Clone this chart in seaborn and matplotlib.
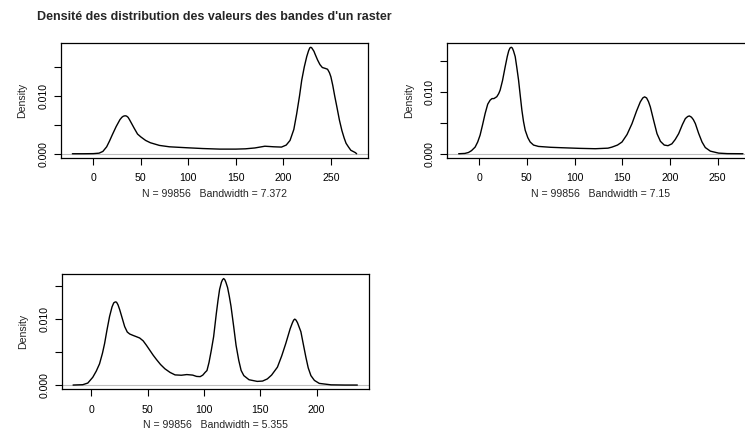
import numpy as np
import seaborn as sns
import matplotlib
matplotlib.use("Agg")
import matplotlib.pyplot as plt

# density curves (x = pixel value, y = density)
band1_x = [-22.1, -10, 0, 6, 10, 14, 17, 20, 24, 28, 30, 31.5, 33, 34, 35, 36.5, 38, 40, 43, 46.5,
           50, 55, 60, 69.5, 80, 97.7, 115, 133, 150, 160, 170, 180.5, 190, 198, 203, 207, 211,
           214, 217, 219.3, 222, 224.6, 226.5, 227.8, 228.8, 229.8, 231, 232.2, 233.4, 236, 238.5,
           241, 244, 246.5, 248.5, 250, 252, 254, 256.3, 259, 261.6, 264, 266, 268.6, 271, 275.7,
           277.1]
band1_y = [0, 0, 0.00002, 0.0001, 0.0004, 0.0012, 0.0022, 0.0033, 0.0047, 0.0059, 0.0063, 0.00648,
           0.00655, 0.00655, 0.0065, 0.0063, 0.0059, 0.0053, 0.0044, 0.0034, 0.0029, 0.0023, 0.0019,
           0.00144, 0.0012, 0.00104, 0.0009, 0.0008, 0.0008, 0.00085, 0.0010, 0.0013, 0.0012,
           0.00115, 0.0015, 0.0023, 0.0042, 0.0069, 0.0100, 0.0127, 0.0150, 0.0168, 0.0178, 0.0183,
           0.0184, 0.0183, 0.0180, 0.0177, 0.0172, 0.0162, 0.0154, 0.0149, 0.01475, 0.0146, 0.0140,
           0.0133, 0.0118, 0.0100, 0.0081, 0.0058, 0.0040, 0.0027, 0.0018, 0.00115, 0.0006,
           0.0002, 0]

band2_x = [-21.45, -15, -11.2, -8, -4.2, -1.5, 1, 3.5, 6.3, 9, 11.5, 13.5, 15.5, 18.5, 20.5, 22,
           24.5, 27.3, 29.5, 31, 32.3, 33.6, 34.8, 36, 37.8, 39.5, 41.3, 43, 44.8, 46.5, 48.3, 51,
           53.5, 57, 62.2, 75, 86.7, 105, 121.7, 135, 139.2, 145, 149.7, 155, 160.2, 165, 168.9,
           171.5, 173.4, 175.5, 177.5, 179.4, 183, 186.4, 190, 194, 197.9, 202, 205.5, 209.1, 213,
           216.1, 218.5, 220.3, 222.5, 224.5, 226.6, 230, 233.6, 237, 242.3, 251, 260, 276.45]
band2_y = [0, 0.00005, 0.0002, 0.0005, 0.00107, 0.0019, 0.0030, 0.0046, 0.0065, 0.0080, 0.00864,
           0.0089, 0.0089, 0.0092, 0.0097, 0.01026, 0.0118, 0.01404, 0.0157, 0.0166, 0.01705,
           0.01718, 0.01705, 0.0166, 0.01567, 0.0139, 0.01189, 0.0095, 0.00702, 0.0052, 0.00378,
           0.0026, 0.00189, 0.0014, 0.00118, 0.00104, 0.00097, 0.00087, 0.00081, 0.0009, 0.00107,
           0.0014, 0.00189, 0.0031, 0.00486, 0.0069, 0.00837, 0.0090, 0.00918, 0.0090, 0.0084,
           0.00756, 0.0053, 0.00324, 0.0020, 0.0014, 0.0013, 0.0016, 0.0023, 0.00324, 0.0047,
           0.00567, 0.0060, 0.0061, 0.0059, 0.0055, 0.00486, 0.0033, 0.00189, 0.0010, 0.00042,
           0.0001, 0.00002, 0]

band3_x = [-16.07, -7.5, -3, 1.4, 4.5, 7.4, 10, 11.9, 14, 16.3, 18.5, 20, 21.4, 22.5, 23.8, 25.3,
           27.5, 29.7, 32, 34.2, 37, 40.2, 43, 46.1, 49, 52, 55, 58, 61.5, 65.4, 70, 74.4, 80, 84.8,
           90, 93.5, 96.7, 99, 101, 102.7, 104.5, 106.5, 108.6, 111, 112.5, 113.9, 115.5, 116.5,
           117.5, 118.5, 119.5, 121, 122.5, 124, 126.4, 128.5, 130.9, 133, 135.4, 140, 147.3, 152,
           156.2, 160, 165.2, 169, 172.6, 176.5, 178.5, 179.6, 180.6, 181.7, 183, 186, 188, 190.4,
           192.5, 194.9, 198, 202.3, 212.8, 225, 236.07]
band3_y = [0, 0.00005, 0.0003, 0.00117, 0.0021, 0.0032, 0.0048, 0.00627, 0.0083, 0.01035, 0.0118,
           0.0124, 0.01255, 0.0125, 0.0121, 0.01137, 0.0101, 0.00882, 0.0080, 0.0077, 0.0075,
           0.00729, 0.0071, 0.00667, 0.0060, 0.00525, 0.0045, 0.00383, 0.0031, 0.00245, 0.0019,
           0.00153, 0.00148, 0.00158, 0.0015, 0.0013, 0.00127, 0.0015, 0.0019, 0.00219, 0.0034,
           0.0052, 0.00729, 0.0108, 0.0128, 0.01443, 0.0155, 0.0159, 0.01607, 0.0159, 0.0155,
           0.0147, 0.0134, 0.0119, 0.00882, 0.0060, 0.00372, 0.0022, 0.00142, 0.0008, 0.00055,
           0.0006, 0.00092, 0.0015, 0.0027, 0.0044, 0.00627, 0.0085, 0.0094, 0.0098, 0.00995,
           0.0098, 0.0094, 0.00805, 0.0063, 0.00423, 0.0026, 0.00142, 0.0007, 0.00025, 0.00003,
           0, 0]

n_obs = [99856, 99856, 99856]
bandwidths = ["7.372", "7.15", "5.355"]
xticks = [[0, 50, 100, 150, 200, 250], [0, 50, 100, 150, 200, 250], [0, 50, 100, 150, 200]]
yticks = [0, 0.005, 0.010, 0.015]
ytick_labels = ["0.000", "", "0.010", ""]
title = "Densité des distribution des valeurs des bandes d'un raster"

sns.set_style("ticks")
plt.rcParams["font.family"] = ["Liberation Sans", "DejaVu Sans"]
plt.rcParams["axes.linewidth"] = 0.9

fig = plt.figure(figsize=(7.45, 4.41), dpi=100)
W, H = 745, 441
# panel boxes in pixels: left, top, width, height (like par(mfrow=c(2,2)))
boxes = [(61, 43, 307, 115), (447.3, 43, 307, 115), (61.7, 274.3, 307, 115)]
curves = [(band1_x, band1_y), (band2_x, band2_y), (band3_x, band3_y)]

for i, ((xs, ys), (l, t, w, h)) in enumerate(zip(curves, boxes)):
    ax = fig.add_axes([l / W, 1 - (t + h) / H, w / W, h / H])
    sns.lineplot(x=xs, y=ys, ax=ax, color="black", linewidth=1.0, sort=False)
    ax.axhline(0, color="#bebebe", linewidth=0.8, zorder=0)
    xr = max(xs) - min(xs)
    ax.set_xlim(min(xs) - 0.04 * xr, max(xs) + 0.04 * xr)
    ym = max(ys)
    ax.set_ylim(-0.04 * ym, 1.04 * ym)
    ax.set_xticks(xticks[i])
    ax.set_yticks(yticks)
    ax.set_yticklabels(ytick_labels, rotation=90, va="center")
    for s in ax.spines.values():
        s.set_visible(True)
        s.set_color("black")
    ax.tick_params(direction="out", length=5, width=0.8, colors="black", labelsize=7.6)
    ax.tick_params(axis="x", pad=6)
    ax.tick_params(axis="y", pad=4)
    ax.set_xlabel(f"N = {n_obs[i]}   Bandwidth = {bandwidths[i]}", fontsize=7.6, labelpad=4)
    ax.set_ylabel("Density", fontsize=7.6, labelpad=8)

fig.text(214 / W, 1 - 17 / H, title, ha="center", va="center", fontsize=9.0, fontweight="bold")

fig.savefig("out.png", dpi=100)
